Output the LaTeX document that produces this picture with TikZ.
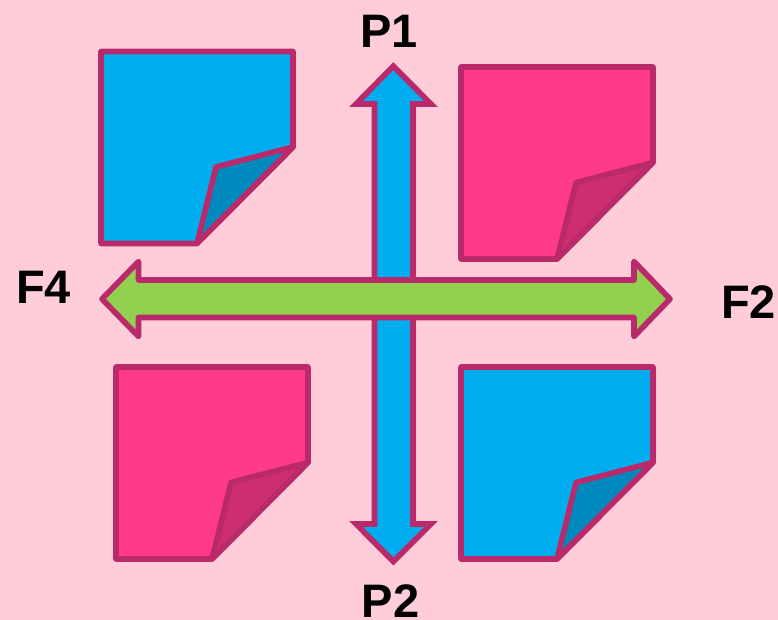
\documentclass[tikz,border=0pt]{standalone}
\usepackage{fontspec}
\setmainfont{Liberation Sans}
\definecolor{bgpink}{HTML}{FFCCD9}
\definecolor{edgec}{HTML}{BA2A6A}
\definecolor{blueface}{HTML}{00AEF0}
\definecolor{bluefold}{HTML}{0089BF}
\definecolor{pinkface}{HTML}{FF3A88}
\definecolor{pinkfold}{HTML}{CC2E70}
\definecolor{greenbar}{HTML}{92D050}
\tikzset{
  outline/.style={draw=edgec,line width=5.6pt},
  sheet/.style={outline,line join=round},
  label/.style={font=\fontsize{47}{47}\selectfont\bfseries,text=black,anchor=base,inner sep=0pt},
}
\newcommand{\notesheet}[4]{%
  \begin{scope}[shift={(#1,#2)}]
    \draw[sheet,fill=#3] (101,51.5) -- (293,51.5) -- (293,147) -- (197,243.5) -- (101,243.5) -- cycle;
    \draw[sheet,fill=#4] (293,147) -- (216,167) -- (197,243.5) -- cycle;
  \end{scope}}
\begin{document}
\begin{tikzpicture}[x=1pt,y=-1pt]
  \useasboundingbox (0,0) rectangle (778,620);
  \fill[bgpink] (0,0) rectangle (778,620);
  \notesheet{0}{0}{blueface}{bluefold}
  \notesheet{360}{15.5}{pinkface}{pinkfold}
  \notesheet{15}{315.5}{pinkface}{pinkfold}
  \notesheet{360}{315.5}{blueface}{bluefold}
  \draw[outline,fill=blueface,line join=miter]
    (393.3,66.2) -- (431,104) -- (413,104) -- (413,524) -- (431,524) -- (393.3,561.5)
    -- (356,524) -- (374.5,524) -- (374.5,104) -- (356,104) -- cycle;
  \draw[outline,fill=greenbar,line join=round]
    (102,299) -- (138.5,261.5) -- (138.5,280) -- (634,280) -- (634,261.5) -- (670,299)
    -- (634,336.5) -- (634,317.5) -- (138.5,317.5) -- (138.5,336.5) -- cycle;
  \node[label] (p1) at (389,48) {P1};
  \node[label] (p2) at (390.5,617.5) {P2};
  \node[label] (f4) at (43.5,303) {F4};
  \node[label] (f2) at (748.5,318) {F2};
\end{tikzpicture}
\end{document}
